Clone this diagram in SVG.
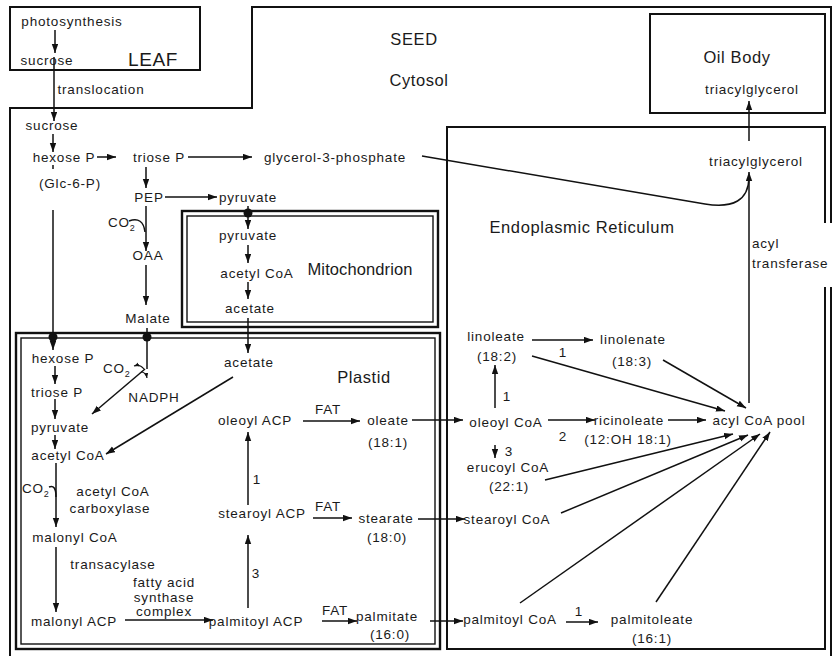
<svg xmlns="http://www.w3.org/2000/svg" width="838" height="656" viewBox="0 0 838 656">
<defs>
<marker id="ah" markerUnits="userSpaceOnUse" markerWidth="10" markerHeight="7" refX="9" refY="3.2" orient="auto"><path d="M0,0 L9,3.2 L0,6.4 z" fill="#111"/></marker>
<marker id="sh" markerUnits="userSpaceOnUse" markerWidth="6" markerHeight="5" refX="5" refY="2" orient="auto"><path d="M0,0 L5,2 L0,4 z" fill="#111"/></marker>
</defs>
<style>
text{font-family:"Liberation Sans",Arial,Helvetica,sans-serif;font-size:13.5px;letter-spacing:0.8px;fill:#1a1a1a;text-anchor:middle}
.big{font-size:16.5px;letter-spacing:0.6px}
.st{text-anchor:start}
.box{fill:none;stroke:#111;stroke-width:2}
.thin{fill:none;stroke:#111;stroke-width:1.4}
.c{fill:none;stroke:#111;stroke-width:1.5}
.a{fill:none;stroke:#111;stroke-width:1.5;marker-end:url(#ah)}
.s{fill:none;stroke:#111;stroke-width:1.2;marker-end:url(#sh)}
.dot{fill:#111}
</style>
<rect width="838" height="656" fill="#fff"/>

<g id="compartments">
<g id="leaf"><rect class="box" x="10" y="7" width="190" height="63"/><text class="big" x="153" y="66" font-size="19" style="font-size:19px">LEAF</text></g>
<g id="seed"><path class="box" d="M831,223 V7 H252 V108 H10 V662 M831,287 V662"/><text class="big" x="414" y="45">SEED</text><text class="big" x="419" y="86">Cytosol</text></g>
<g id="oilbody"><rect class="box" x="650" y="14" width="175" height="99"/><text class="big" x="737" y="63">Oil Body</text></g>
<g id="er"><path class="box" d="M825,223 V127 H447 V649 H825 V287"/><text class="big" x="582" y="233">Endoplasmic Reticulum</text></g>
<g id="mitochondrion"><rect class="box" x="182" y="211" width="256" height="116" style="stroke-width:2.4"/><rect class="thin" x="187" y="216" width="246" height="106"/><text class="big" x="360" y="275" style="letter-spacing:0.1px">Mitochondrion</text></g>
<g id="plastid"><rect class="box" x="16" y="333" width="424" height="316" style="stroke-width:2.4"/><rect class="thin" x="21" y="338" width="414" height="306"/><text class="big" x="364" y="383">Plastid</text></g>
</g>

<g id="connectors">
<line class="a" x1="55" y1="30" x2="55" y2="53"/>
<line class="a" x1="54" y1="57" x2="54" y2="121"/>
<line class="a" x1="53" y1="134" x2="53" y2="152"/>
<line class="c" x1="53" y1="165" x2="53" y2="169"/>
<line class="a" x1="97" y1="157" x2="116" y2="157"/>
<line class="a" x1="188" y1="157" x2="252" y2="157"/>
<line class="a" x1="146" y1="167" x2="146" y2="188"/>
<line class="a" x1="165" y1="197" x2="217" y2="197"/>
<line class="a" x1="146" y1="206" x2="146" y2="251"/>
<path class="c" d="M129,221 Q143,216 145,232"/>
<line class="a" x1="146" y1="265" x2="146" y2="305"/>
<path class="c" d="M147,328 V369"/>
<line class="a" x1="145" y1="369" x2="92" y2="414"/>
<path class="s" d="M144,369 Q140,364 134,366"/>
<path class="s" d="M141,372 Q146,372 147,378"/>
<line class="a" x1="53" y1="210" x2="53" y2="350"/>
<line class="a" x1="248" y1="206" x2="248" y2="229"/>
<line class="a" x1="248" y1="245" x2="248" y2="263"/>
<line class="a" x1="248" y1="282" x2="248" y2="299"/>
<line class="a" x1="248" y1="318" x2="248" y2="353"/>
<line class="a" x1="233" y1="377" x2="106" y2="454"/>
<circle class="dot" cx="53" cy="337" r="4.5"/>
<circle class="dot" cx="147" cy="337" r="4.5"/>
<circle class="dot" cx="248" cy="213" r="4.5"/>

<line class="a" x1="55" y1="366" x2="55" y2="384"/>
<line class="a" x1="55" y1="399" x2="55" y2="419"/>
<line class="a" x1="55" y1="435" x2="55" y2="449"/>
<line class="a" x1="56" y1="463" x2="56" y2="527"/>
<path class="c" d="M49,487 Q56,484 56,497"/>
<line class="a" x1="56" y1="547" x2="56" y2="612"/>
<line class="a" x1="125" y1="620" x2="213" y2="620"/>
<line class="a" x1="248" y1="608" x2="248" y2="535"/>
<line class="a" x1="248" y1="505" x2="248" y2="432"/>
<line class="a" x1="303" y1="421" x2="360" y2="421"/>
<line class="a" x1="313" y1="518" x2="352" y2="518"/>
<line class="a" x1="322" y1="621" x2="357" y2="621"/>
<line class="a" x1="412" y1="420" x2="463" y2="420"/>
<line class="a" x1="418" y1="519" x2="465" y2="519"/>
<line class="a" x1="430" y1="621" x2="463" y2="621"/>

<line class="a" x1="495" y1="408" x2="495" y2="365"/>
<line class="a" x1="532" y1="340" x2="593" y2="340"/>
<line class="a" x1="548" y1="420" x2="595" y2="420"/>
<line class="a" x1="495" y1="445" x2="495" y2="458"/>
<line class="a" x1="668" y1="420" x2="706" y2="420"/>
<line class="a" x1="532" y1="356" x2="725" y2="411"/>
<line class="a" x1="663" y1="360" x2="746" y2="408"/>
<line class="a" x1="545" y1="480" x2="733" y2="434"/>
<line class="a" x1="561" y1="513" x2="748" y2="435"/>
<line class="a" x1="520" y1="603" x2="760" y2="434"/>
<line class="a" x1="656" y1="602" x2="770" y2="432"/>
<line class="a" x1="566" y1="622" x2="598" y2="622"/>
<line class="a" x1="749" y1="403" x2="749" y2="172"/>
<line class="a" x1="749" y1="141" x2="749" y2="101"/>
<path class="c" d="M422,156 L705,204 Q748,211 749,178"/>
</g>

<g id="n-photosynthesis"><text x="72" y="26">photosynthesis</text></g>
<g id="n-sucrose-leaf"><text x="47" y="65">sucrose</text></g>
<g id="n-translocation"><text x="101" y="94">translocation</text></g>
<g id="n-sucrose-seed"><text x="52" y="130">sucrose</text></g>
<g id="n-hexoseP-cyt"><text x="64" y="162">hexose P</text><text x="70" y="188">(Glc-6-P)</text></g>
<g id="n-trioseP-cyt"><text x="159" y="162">triose P</text></g>
<g id="n-g3p"><text x="335" y="162">glycerol-3-phosphate</text></g>
<g id="n-pep"><text x="149" y="202">PEP</text></g>
<g id="n-pyruvate-cyt"><text x="248" y="202">pyruvate</text></g>
<g id="n-co2-cyt"><text class="st" x="108" y="227">CO<tspan style="font-size:9px" dy="4">2</tspan></text></g>
<g id="n-oaa"><text x="148" y="260">OAA</text></g>
<g id="n-malate"><text x="148" y="323">Malate</text></g>
<g id="n-pyruvate-mito"><text x="248" y="240">pyruvate</text></g>
<g id="n-acetylcoa-mito"><text x="257" y="278">acetyl CoA</text></g>
<g id="n-acetate-mito"><text x="250" y="313">acetate</text></g>
<g id="n-acetate-pl"><text x="249" y="367">acetate</text></g>
<g id="n-hexoseP-pl"><text x="63" y="363">hexose P</text></g>
<g id="n-co2-pl"><text class="st" x="103" y="373">CO<tspan style="font-size:9px" dy="4">2</tspan></text></g>
<g id="n-nadph"><text x="154" y="402">NADPH</text></g>
<g id="n-trioseP-pl"><text x="57" y="397">triose P</text></g>
<g id="n-pyruvate-pl"><text x="60" y="432">pyruvate</text></g>
<g id="n-acetylcoa-pl"><text x="68" y="460">acetyl CoA</text></g>
<g id="n-co2-acc"><text class="st" x="22" y="493">CO<tspan style="font-size:9px" dy="4">2</tspan></text></g>
<g id="n-acc"><text x="113" y="496">acetyl CoA</text><text x="110" y="513">carboxylase</text></g>
<g id="n-malonylcoa"><text x="75" y="542">malonyl CoA</text></g>
<g id="n-transacylase"><text x="113" y="569">transacylase</text></g>
<g id="n-malonylacp"><text x="74" y="626">malonyl ACP</text></g>
<g id="n-fas"><text x="164" y="587">fatty acid</text><text x="164" y="602">synthase</text><text x="164" y="616">complex</text></g>
<g id="n-palmitoylacp"><text x="256" y="626">palmitoyl ACP</text></g>
<g id="n-stearoylacp"><text x="262" y="518">stearoyl ACP</text></g>
<g id="n-oleoylacp"><text x="255" y="425">oleoyl ACP</text></g>
<g id="n-lab1-pl"><text x="257" y="484">1</text></g>
<g id="n-lab3-pl"><text x="256" y="578">3</text></g>
<g id="n-fat1"><text x="328" y="414">FAT</text></g>
<g id="n-fat2"><text x="328" y="511">FAT</text></g>
<g id="n-fat3"><text x="335" y="615">FAT</text></g>
<g id="n-oleate"><text x="388" y="425">oleate</text><text x="388" y="447">(18:1)</text></g>
<g id="n-stearate"><text x="386" y="523">stearate</text><text x="387" y="542">(18:0)</text></g>
<g id="n-palmitate"><text x="387" y="621">palmitate</text><text x="390" y="639">(16:0)</text></g>
<g id="n-linoleate"><text x="496" y="341">linoleate</text><text x="497" y="361">(18:2)</text></g>
<g id="n-lab1-a"><text x="563" y="357">1</text></g>
<g id="n-linolenate"><text x="633" y="344">linolenate</text><text x="632" y="366">(18:3)</text></g>
<g id="n-lab1-b"><text x="507" y="401">1</text></g>
<g id="n-oleoylcoa"><text x="506" y="427">oleoyl CoA</text></g>
<g id="n-lab2"><text x="563" y="441">2</text></g>
<g id="n-ricinoleate"><text x="629" y="425">ricinoleate</text><text x="628" y="444">(12:OH 18:1)</text></g>
<g id="n-acylcoapool"><text x="759" y="425">acyl CoA pool</text></g>
<g id="n-lab3-er"><text x="509" y="456">3</text></g>
<g id="n-erucoylcoa"><text x="508" y="472">erucoyl CoA</text><text x="509" y="491">(22:1)</text></g>
<g id="n-stearoylcoa"><text x="507" y="524">stearoyl CoA</text></g>
<g id="n-palmitoylcoa"><text x="510" y="624">palmitoyl CoA</text></g>
<g id="n-lab1-c"><text x="579" y="616">1</text></g>
<g id="n-palmitoleate"><text x="652" y="624">palmitoleate</text><text x="652" y="643">(16:1)</text></g>
<g id="n-tag-er"><text x="756" y="166">triacylglycerol</text></g>
<g id="n-tag-oil"><text x="752" y="94">triacylglycerol</text></g>
<g id="n-acyltransferase"><text class="st" x="752" y="248">acyl</text><text class="st" x="752" y="268">transferase</text></g>
</svg>
